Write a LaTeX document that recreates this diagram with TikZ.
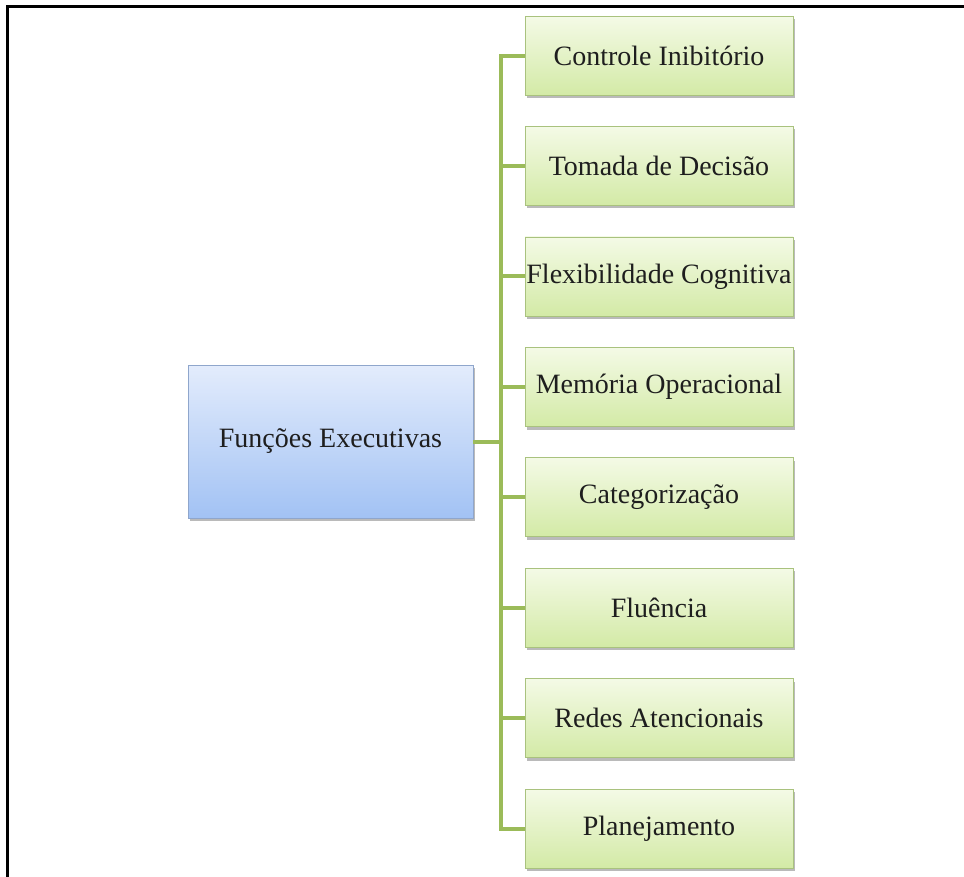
\documentclass[tikz,border=0pt]{standalone}
\usepackage{fontspec}
\setmainfont{Liberation Serif}
\usetikzlibrary{shadows}
\definecolor{linegreen}{HTML}{9BBB59}
\definecolor{gtop}{HTML}{F4FAE6}
\definecolor{gbot}{HTML}{D3EAA6}
\definecolor{gedge}{HTML}{A9C27E}
\definecolor{btop}{HTML}{E3ECFC}
\definecolor{bbot}{HTML}{A2C2F4}
\definecolor{bedge}{HTML}{8FA6CC}
\definecolor{txt}{HTML}{1E1E1E}
\tikzset{
  leafbox/.style={draw=gedge, line width=0.8pt, top color=gtop, bottom color=gbot,
    minimum width=268pt, minimum height=79pt, inner sep=0pt, text=txt,
    font=\fontsize{28}{33}\selectfont,
    drop shadow={shadow xshift=2pt, shadow yshift=-3pt, opacity=0.45, fill=black!60}},
  rootbox/.style={draw=bedge, line width=0.8pt, top color=btop, bottom color=bbot,
    minimum width=285pt, minimum height=153pt, inner sep=0pt, text=txt,
    font=\fontsize{28}{33}\selectfont,
    drop shadow={shadow xshift=2pt, shadow yshift=-3pt, opacity=0.45, fill=black!60}},
  conn/.style={draw=linegreen, line width=4pt},
  frame/.style={draw=black, line width=3pt}
}
\begin{document}
\begin{tikzpicture}[x=1pt,y=-1pt]
\useasboundingbox (0,0) rectangle (964,877);
\draw[frame] (964,7) -- (7,7) -- (7,877);
\node[rootbox] (root) at (330.5,441.5) {Funções Executivas};
\node[leafbox] (c1) at (659,56) {Controle Inibitório};
\node[leafbox] (c2) at (659,166) {Tomada de Decisão};
\node[leafbox] (c3) at (659,276.5) {Flexibilidade Cognitiva};
\node[leafbox] (c4) at (659,387) {Memória Operacional};
\node[leafbox] (c5) at (659,497) {Categorização};
\node[leafbox] (c6) at (659,607.5) {Fluência};
\node[leafbox] (c7) at (659,718) {Redes Atencionais};
\node[leafbox] (c8) at (659,828.5) {Planejamento};
\coordinate (bus) at (501,441.5);
\draw[conn] (root.east) -- (bus);
\draw[conn, line cap=rect] (c1.west -| bus) -- (c8.west -| bus);
\foreach \c in {c1,c2,c3,c4,c5,c6,c7,c8}{
  \draw[conn] (\c.west -| bus) -- (\c.west);
}
\end{tikzpicture}
\end{document}
